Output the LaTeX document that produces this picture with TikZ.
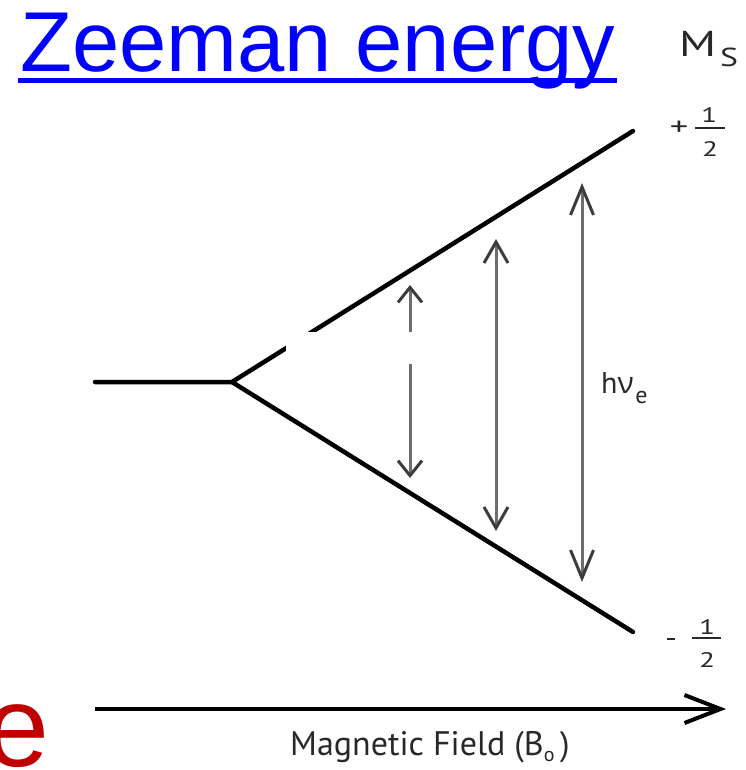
\documentclass[tikz,border=0pt]{standalone}
\usepackage{fontspec}
\setmainfont{Liberation Sans}
\newfontfamily\labfont{PT Sans}
\newfontfamily\grkfont{Open Sans}
\usetikzlibrary{arrows.meta}
\definecolor{titleblue}{RGB}{0,0,255}
\definecolor{ered}{RGB}{192,0,0}
\definecolor{labgray}{RGB}{40,40,40}
\definecolor{arrgray}{RGB}{110,110,110}
\definecolor{headgray}{RGB}{60,60,60}
\tikzset{
  level/.style={line width=4.5pt, black, line cap=round},
  trans/.style={line width=3pt, arrgray},
  lab/.style={inner sep=0pt, text=labgray},
}
\newcommand{\wide}[1]{\scalebox{1.4}[1]{#1}}
\begin{document}
\begin{tikzpicture}[x=1pt,y=-1pt]
\useasboundingbox (0,0) rectangle (745,770);
% title
\node[anchor=base west, inner sep=0pt, text=titleblue,
      font=\fontsize{85}{85}\selectfont] (title) at (20,72) {Zeeman energy};
\coordinate (ulL) at (18,81);
\coordinate (ulR) at (617,81);
\draw[titleblue, line width=5pt] (ulL) -- (ulR);
% red e
\node[anchor=base west, inner sep=0pt, text=ered,
      font=\fontsize{115}{115}\selectfont] (ered) at (-15,766) {e};
% energy levels
\coordinate (lvL) at (95,382);
\coordinate (split) at (232,382);
\coordinate (lvU) at (633,131);
\coordinate (lvD) at (633,632);
\draw[level] (lvL) -- (split) -- (lvU);
\draw[level] (split) -- (lvD);
% transitions
\coordinate (a1t) at (410,285); \coordinate (a1b) at (410,478);
\coordinate (a2t) at (496,239); \coordinate (a2b) at (496,531);
\coordinate (a3t) at (582,183); \coordinate (a3b) at (582,582);
\draw[trans, {Straight Barb[length=15pt,width=24pt,color=headgray]}-{Straight Barb[length=15pt,width=24pt,color=headgray]}] (a1b) -- (a1t);
\draw[trans, {Straight Barb[length=21pt,width=24pt,color=headgray]}-{Straight Barb[length=21pt,width=24pt,color=headgray]}] (a2b) -- (a2t);
\draw[trans, {Straight Barb[length=28pt,width=23pt,color=headgray]}-{Straight Barb[length=28pt,width=23pt,color=headgray]}] (a3b) -- (a3t);
% white patch
\fill[white] (286,332) rectangle (414,364);
% hv_e
\node[lab, anchor=base west, font=\labfont\fontsize{30}{30}\selectfont] (hv) at (601,393)
  {h\grkfont ν};
\node[lab, anchor=base west, font=\labfont\fontsize{24}{24}\selectfont] (hve) at ([xshift=1pt,yshift=-10pt]hv.base east)
  {e};
% M_S
\node[lab, anchor=base west, font=\labfont\fontsize{36}{36}\selectfont] (M) at (679,57) {\scalebox{1.3}[1]{M}};
\node[lab, anchor=base west, font=\labfont\fontsize{26}{26}\selectfont] (S) at (720,67) {\scalebox{1.3}[1]{S}};
% +1/2
\node[lab, font=\labfont\fontsize{26}{26}\selectfont] (plus) at (679,128) {\wide{+}};
\node[lab, anchor=base, font=\labfont\fontsize{21}{21}\selectfont] (pone) at (709,123) {\wide{1}};
\node[lab, anchor=base, font=\labfont\fontsize{21}{21}\selectfont] (ptwo) at (710,157) {\wide{2}};
\coordinate (pbL) at (695,128); \coordinate (pbR) at (725,128);
\draw[labgray, line width=1.4pt] (pbL) -- (pbR);
% -1/2
\coordinate (mmL) at (667,639); \coordinate (mmR) at (675,639);
\draw[labgray, line width=2.5pt] (mmL) -- (mmR);
\node[lab, anchor=base, font=\labfont\fontsize{21}{21}\selectfont] (mone) at (707,634) {\wide{1}};
\node[lab, anchor=base, font=\labfont\fontsize{21}{21}\selectfont] (mtwo) at (707,667) {\wide{2}};
\coordinate (mbL) at (692,638); \coordinate (mbR) at (721,638);
\draw[labgray, line width=1.4pt] (mbL) -- (mbR);
% magnetic field arrow
\coordinate (bL) at (95,709);
\coordinate (bR) at (726,709);
\draw[line width=4pt, -{Straight Barb[length=36pt,width=28pt]}] (bL) -- (bR);
\node[lab, anchor=base west, font=\labfont\fontsize{34}{34}\selectfont] (mf) at (290,755)
  {Magnetic Field (B\raisebox{-6pt}{\fontsize{20}{20}\selectfont o}\,)};
\end{tikzpicture}
\end{document}
